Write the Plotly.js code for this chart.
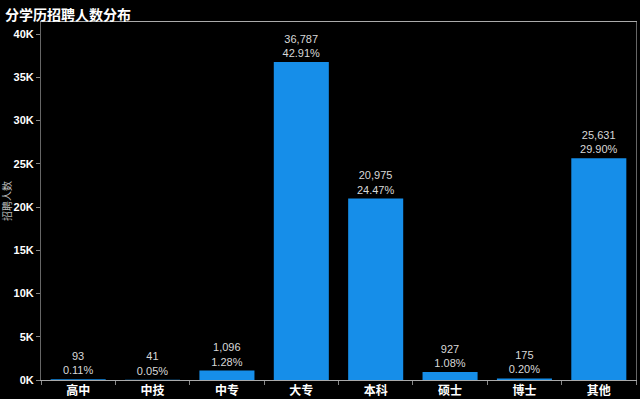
<!DOCTYPE html>
<html><head><meta charset="utf-8">
<script src="https://cdn.plot.ly/plotly-3.0.1.min.js"></script>
<style>html,body{margin:0;padding:0;background:#000;}#chart{width:640px;height:399px;}</style>
</head><body><div id="chart"></div>
<script>
const categories = ["高中","中技","中专","大专","本科","硕士","博士","其他"];
const values = [93, 41, 1096, 36787, 20975, 927, 175, 25631];
const percents = ["0.11%","0.05%","1.28%","42.91%","24.47%","1.08%","0.20%","29.90%"];
const yTickVals = [0,5000,10000,15000,20000,25000,30000,35000,40000];
const yTickText = ["0K","5K","10K","15K","20K","25K","30K","35K","40K"];

const FONT = '"Liberation Sans", Arial, "Noto Sans CJK SC", sans-serif';
const labels = values.map((v,i)=> v.toLocaleString('en-US') + '<br>' + percents[i]);

const trace = {
  type: 'bar', x: categories, y: values,
  marker: {color: '#168ee9'},
  width: 0.74,
  text: labels, textposition: 'outside', cliponaxis: false,
  textfont: {family: FONT, size: 11, color: '#d8d8d8'},
  hoverinfo: 'none'
};
const layout = {
  width: 640, height: 399,
  paper_bgcolor: '#000', plot_bgcolor: '#000',
  margin: {l: 41, r: 4, t: 22, b: 19},
  showlegend: false,
  font: {family: FONT, color: '#fff'},
  title: {text: '<b>分学历招聘人数分布</b>', x: 0.008, xanchor: 'left', y: 0.975, yanchor: 'top',
          font: {family: FONT, size: 14, color: '#fff'}},
  xaxis: {
    type: 'category', tickson: 'boundaries', ticks: 'outside', ticklen: 4, tickcolor: '#888',
    showline: true, linecolor: '#aaa', mirror: true, showgrid: false,
    tickfont: {family: FONT, size: 12, color: '#fff', weight: 'bold'}
  },
  yaxis: {
    range: [0, 41400], tickvals: yTickVals, ticktext: yTickText,
    ticks: 'outside', ticklen: 4, tickcolor: '#888',
    showline: true, linecolor: '#666', mirror: true, showgrid: false, zeroline: false,
    tickfont: {family: FONT, size: 11, color: '#fff', weight: 'bold'},
    title: {text: '招聘人数', standoff: 0, font: {family: FONT, size: 10, color: '#bbb'}}
  },
  bargap: 0.26
};
Plotly.newPlot('chart', [trace], layout, {staticPlot: true, displayModeBar: false});
</script></body></html>
